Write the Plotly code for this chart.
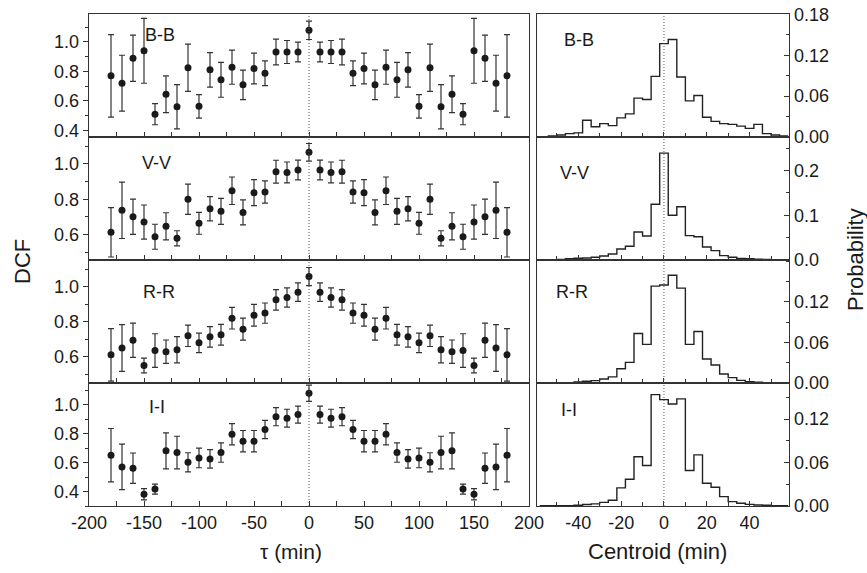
import plotly.graph_objects as go

# ---------------- data ----------------
tau = list(range(-180, 190, 10))

bb_dcf = [0.77, 0.72, 0.89, 0.94, 0.51, 0.645, 0.56, 0.825, 0.563, 0.811, 0.743, 0.829, 0.709, 0.82, 0.788, 0.932, 0.932, 0.932,
          1.079,
          0.932, 0.932, 0.932, 0.788, 0.82, 0.709, 0.829, 0.743, 0.811, 0.563, 0.825, 0.56, 0.645, 0.51, 0.94, 0.89, 0.72, 0.77]
bb_err = [0.28, 0.19, 0.157, 0.22, 0.072, 0.125, 0.15, 0.16, 0.08, 0.117, 0.118, 0.116, 0.1, 0.105, 0.084, 0.088, 0.078, 0.067,
          0.062,
          0.067, 0.078, 0.088, 0.084, 0.105, 0.1, 0.116, 0.118, 0.117, 0.08, 0.16, 0.15, 0.125, 0.072, 0.22, 0.157, 0.19, 0.28]

vv_dcf = [0.612, 0.737, 0.70, 0.67, 0.587, 0.646, 0.578, 0.80, 0.663, 0.746, 0.731, 0.848, 0.725, 0.837, 0.841, 0.956, 0.952, 0.966,
          1.066,
          0.966, 0.952, 0.956, 0.841, 0.837, 0.725, 0.848, 0.731, 0.746, 0.663, 0.80, 0.578, 0.646, 0.587, 0.67, 0.70, 0.737, 0.612]
vv_err = [0.14, 0.16, 0.10, 0.097, 0.071, 0.077, 0.043, 0.086, 0.062, 0.069, 0.074, 0.078, 0.071, 0.074, 0.063, 0.065, 0.059, 0.056,
          0.05,
          0.056, 0.059, 0.065, 0.063, 0.074, 0.071, 0.078, 0.074, 0.069, 0.062, 0.086, 0.043, 0.077, 0.071, 0.097, 0.10, 0.16, 0.14]

rr_dcf = [0.611, 0.65, 0.695, 0.55, 0.636, 0.629, 0.64, 0.72, 0.68, 0.714, 0.726, 0.821, 0.758, 0.838, 0.85, 0.926, 0.939, 0.97,
          1.059,
          0.97, 0.939, 0.926, 0.85, 0.838, 0.758, 0.821, 0.726, 0.714, 0.68, 0.72, 0.64, 0.629, 0.636, 0.55, 0.695, 0.65, 0.611]
rr_err = [0.15, 0.134, 0.098, 0.042, 0.096, 0.067, 0.075, 0.061, 0.056, 0.059, 0.059, 0.062, 0.063, 0.062, 0.058, 0.059, 0.055, 0.053,
          0.052,
          0.053, 0.055, 0.059, 0.058, 0.062, 0.063, 0.062, 0.059, 0.059, 0.056, 0.061, 0.075, 0.067, 0.096, 0.042, 0.098, 0.134, 0.15]

ii_dcf = [0.652, 0.571, 0.562, 0.382, 0.417, 0.682, 0.67, 0.603, 0.633, 0.626, 0.67, 0.797, 0.749, 0.749, 0.83, 0.919, 0.908, 0.933,
          1.081,
          0.933, 0.908, 0.919, 0.83, 0.749, 0.749, 0.797, 0.67, 0.626, 0.633, 0.603, 0.67, 0.682, 0.417, 0.382, 0.562, 0.571, 0.652]
ii_err = [0.185, 0.157, 0.105, 0.039, 0.035, 0.125, 0.113, 0.066, 0.068, 0.064, 0.067, 0.074, 0.074, 0.074, 0.063, 0.063, 0.062, 0.059,
          0.056,
          0.059, 0.062, 0.063, 0.063, 0.074, 0.074, 0.074, 0.067, 0.064, 0.068, 0.066, 0.113, 0.125, 0.035, 0.039, 0.105, 0.157, 0.185]

centroid = list(range(-56, 60, 4))
bin_width = 4

bb_prob = [0.0005, 0.0015, 0.003, 0.005, 0.006, 0.0245, 0.015, 0.0196, 0.0167, 0.028,
           0.034, 0.057, 0.055, 0.089, 0.137, 0.143, 0.088, 0.053, 0.061, 0.029,
           0.023, 0.0196, 0.0186, 0.016, 0.0127, 0.0186, 0.005, 0.003, 0.0015]
vv_prob = [0.0007, 0.0008, 0.0015, 0.003, 0.004, 0.0045, 0.006, 0.009, 0.0134, 0.0246,
           0.0306, 0.0627, 0.0537, 0.1246, 0.239, 0.1, 0.119, 0.0545, 0.052, 0.029,
           0.021, 0.0097, 0.006, 0.0037, 0.003, 0.002, 0.0015, 0.0007, 0.0007]
rr_prob = [0.0005, 0.0005, 0.0005, 0.0005, 0.0015, 0.0025, 0.0035, 0.006, 0.009, 0.021,
           0.0305, 0.073, 0.057, 0.143, 0.1446, 0.159, 0.14, 0.057, 0.076, 0.0354,
           0.0266, 0.0133, 0.0079, 0.0039, 0.002, 0.001, 0.0005, 0.0005, 0.0005]
ii_prob = [0.0005, 0.0005, 0.0005, 0.0005, 0.001, 0.002, 0.003, 0.005, 0.008, 0.025,
           0.037, 0.068, 0.056, 0.154, 0.147, 0.141, 0.148, 0.049, 0.0707, 0.0314,
           0.026, 0.013, 0.006, 0.0037, 0.0023, 0.0014, 0.001, 0.0005, 0.0005]

labels = ["B-B", "V-V", "R-R", "I-I"]
tau_ticks = [-200, -150, -100, -50, 0, 50, 100, 150, 200]
tau_ticktext = ["-200", "-150", "-100", "-50", "0", "50", "100", "150", "200"]
cen_ticks = [-40, -20, 0, 20, 40]
cen_ticktext = ["-40", "-20", "0", "20", "40"]

dcf_sets = [(bb_dcf, bb_err), (vv_dcf, vv_err), (rr_dcf, rr_err), (ii_dcf, ii_err)]
prob_sets = [bb_prob, vv_prob, rr_prob, ii_prob]

# ---------------- layout geometry ----------------
W, H = 867, 573
FONT = "Liberation Sans, Arial, sans-serif"
INK = "#1a1a1a"

left_x = [89 / W, 529 / W]
right_x = [537 / W, 789 / W]
rows_px = [(14, 137), (137, 260), (260, 383), (383, 506)]
rows = [[1 - b / H, 1 - t / H] for t, b in rows_px]

dcf_ranges = [[0.355, 1.19], [0.455, 1.153], [0.45, 1.154], [0.30, 1.152]]
prob_ranges = [[0, 0.1805], [0, 0.275], [0, 0.1815], [0, 0.17]]
prob_ticks = [[0, 0.06, 0.12, 0.18], [0, 0.1, 0.2], [0, 0.06, 0.12], [0, 0.06, 0.12]]
prob_fmt = [".2f", ".1f", ".2f", ".2f"]
prob_minor = [0.03, 0.05, 0.03, 0.03]

fig = go.Figure()
layout = {}
shapes = []
annotations = []

for i in range(4):
    n_l = i + 1
    n_r = i + 5
    xl = "x" if n_l == 1 else f"x{n_l}"
    yl = "y" if n_l == 1 else f"y{n_l}"
    xr, yr = f"x{n_r}", f"y{n_r}"
    dcf, err = dcf_sets[i]

    fig.add_trace(go.Scatter(
        x=tau, y=dcf, mode="markers", xaxis=xl, yaxis=yl,
        marker=dict(color=INK, size=7),
        error_y=dict(type="data", array=err, visible=True, color="#333333",
                     thickness=1.2, width=3),
        showlegend=False))

    prob = prob_sets[i]
    edges = [c - bin_width / 2 for c in centroid] + [centroid[-1] + bin_width / 2]
    fig.add_trace(go.Scatter(
        x=edges, y=prob + [prob[-1]], mode="lines", line_shape="hv",
        xaxis=xr, yaxis=yr, line=dict(color="#222222", width=1.4),
        showlegend=False))

    last = (i == 3)
    axis_common = dict(showline=True, linecolor="#333333", linewidth=1.4, mirror=True,
                       showgrid=False, zeroline=False, automargin=False,
                       tickfont=dict(family=FONT, size=18, color=INK),
                       tickcolor="#333333")
    layout["xaxis" if n_l == 1 else f"xaxis{n_l}"] = dict(
        axis_common, domain=left_x, anchor=yl, range=[-200, 200],
        tickmode="array", tickvals=tau_ticks, ticktext=tau_ticktext,
        ticks="inside", ticklen=5,
        minor=dict(tickmode="linear", tick0=0, dtick=25, ticks="inside", ticklen=5,
                   tickcolor="#333333"),
        showticklabels=last)
    layout["yaxis" if n_l == 1 else f"yaxis{n_l}"] = dict(
        axis_common, domain=rows[i], anchor=xl, range=dcf_ranges[i],
        tickmode="linear", tick0=0, dtick=0.2, tickformat=".1f",
        ticks="outside", ticklen=5,
        minor=dict(dtick=0.1, ticks="outside", ticklen=3, tickcolor="#333333"))
    layout[f"xaxis{n_r}"] = dict(
        axis_common, domain=right_x, anchor=yr, range=[-59.3, 58.4],
        tickmode="array", tickvals=cen_ticks, ticktext=cen_ticktext,
        ticks="inside", ticklen=5,
        minor=dict(tickmode="linear", dtick=10, tick0=0, ticks="inside", ticklen=4,
                   tickcolor="#333333"),
        showticklabels=last)
    layout[f"yaxis{n_r}"] = dict(
        axis_common, domain=rows[i], anchor=xr, side="right", range=prob_ranges[i],
        tickmode="array", tickvals=prob_ticks[i], tickformat=prob_fmt[i],
        ticks="inside", ticklen=5,
        minor=dict(tickmode="linear", dtick=prob_minor[i], tick0=0, ticks="inside",
                   ticklen=3, tickcolor="#333333"))

    for xa, ya in ((xl, yl), (xr, yr)):
        shapes.append(dict(type="line", xref=xa, yref=f"{ya} domain", x0=0, x1=0, y0=0, y1=1,
                           line=dict(color="#555555", width=1, dash="1px,2px")))

# panel labels (pixel positions)
left_lab = [(143, 35), (140, 163), (141, 292), (147, 407)]
right_lab = [(562, 40), (558, 173), (554, 292), (559, 410)]
for i, lab in enumerate(labels):
    for (px, py) in (left_lab[i], right_lab[i]):
        annotations.append(dict(text=lab, xref="paper", yref="paper", x=px / W, y=1 - py / H,
                                xanchor="left", yanchor="middle", showarrow=False,
                                font=dict(family=FONT, size=18, color=INK)))

# axis titles
annotations += [
    dict(text="DCF", xref="paper", yref="paper", x=22 / W, y=1 - 262 / H, textangle=-90,
         showarrow=False, xanchor="center", yanchor="middle",
         font=dict(family=FONT, size=22, color=INK)),
    dict(text="Probability", xref="paper", yref="paper", x=855 / W, y=1 - 260 / H, textangle=-90,
         showarrow=False, xanchor="center", yanchor="middle",
         font=dict(family=FONT, size=22, color=INK)),
    dict(text="τ (min)", xref="paper", yref="paper", x=291 / W, y=1 - 551 / H,
         showarrow=False, xanchor="center", yanchor="middle",
         font=dict(family=FONT, size=21, color=INK)),
    dict(text="Centroid (min)", xref="paper", yref="paper", x=657 / W, y=1 - 551 / H,
         showarrow=False, xanchor="center", yanchor="middle",
         font=dict(family=FONT, size=22, color=INK)),
]

fig.update_layout(
    width=W, height=H, margin=dict(l=0, r=0, t=0, b=0, autoexpand=False),
    paper_bgcolor="white", plot_bgcolor="white",
    shapes=shapes, annotations=annotations, showlegend=False,
    **layout)

fig.write_html(
    "out.html",
    config={"displayModeBar": False, "staticPlot": True},
    post_script="document.body.style.margin='0';document.body.style.overflow='hidden';")
